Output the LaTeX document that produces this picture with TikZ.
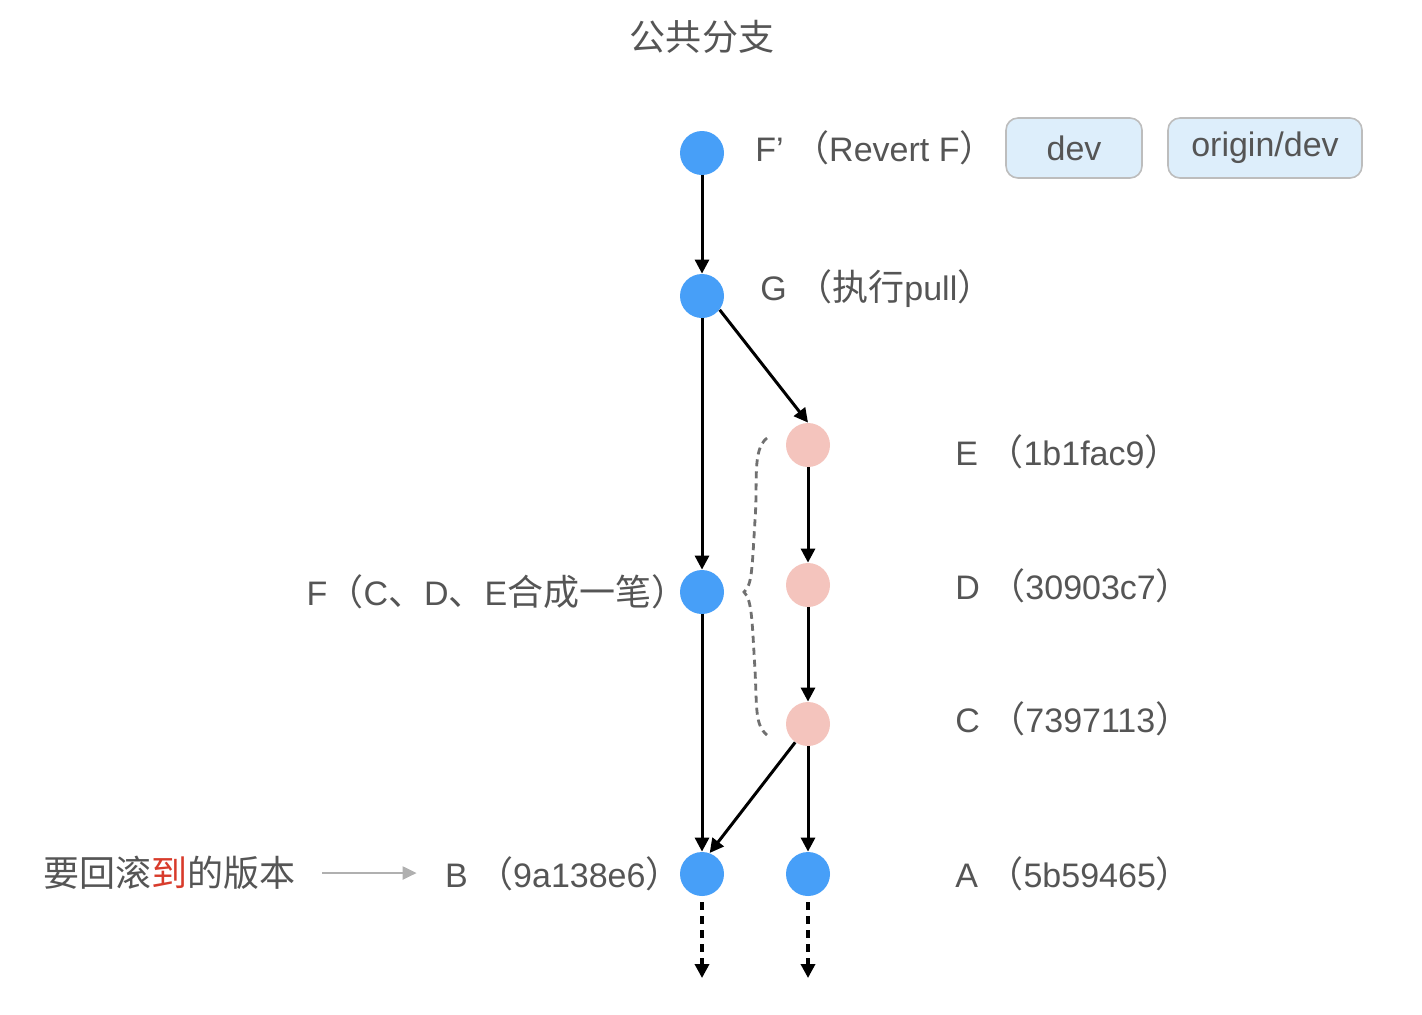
\documentclass[tikz,border=0pt]{standalone}
\usepackage{fontspec}
\setmainfont{Liberation Sans}
\newfontfamily\cjk[Scale=1.06]{Noto Sans CJK SC}
\usetikzlibrary{arrows.meta}
\definecolor{cblue}{HTML}{479FF8}
\definecolor{cpink}{HTML}{F4C4BD}
\definecolor{ctext}{HTML}{555555}
\definecolor{cred}{HTML}{D83B2B}
\definecolor{boxfill}{HTML}{DDEEFB}
\definecolor{boxline}{HTML}{BDBDBD}
\definecolor{brace}{HTML}{707070}
\definecolor{garrow}{HTML}{B0B0B0}
\begin{document}
\begin{tikzpicture}[x=0.5pt,y=-0.5pt,
  commit/.style={circle,fill=cblue,minimum size=22pt,inner sep=0pt},
  pcommit/.style={circle,fill=cpink,minimum size=22pt,inner sep=0pt},
  lbl/.style={text=ctext,font=\fontsize{17}{20}\selectfont,inner sep=0pt},
  branch/.style={draw=boxline,fill=boxfill,rounded corners=6pt,line width=0.8pt,
     minimum height=30pt,text=ctext,font=\fontsize{17}{20}\selectfont,inner sep=0pt},
  edge/.style={line width=1.5pt,-{Triangle[length=7pt,width=7pt]}},
  tail/.style={edge,dash pattern=on 4pt off 3pt,line width=1.7pt},
  bracestyle/.style={draw=brace,line width=1.4pt,dash pattern=on 3.5pt off 2.5pt},
  grayarr/.style={draw=garrow,line width=1.1pt,-{Triangle[length=7pt,width=6.5pt]}}
]
\useasboundingbox (0,0) rectangle (1422,1014);
% title
\node[lbl] (title) at (702,37) {\cjk 公共分支};
% commits
\node[commit] (fp) at (702,153) {};
\node[commit] (g) at (702,296) {};
\node[pcommit] (e) at (808,445) {};
\node[pcommit] (d) at (808,585) {};
\node[pcommit] (c) at (808,724) {};
\node[commit] (f) at (702,592) {};
\node[commit] (b) at (702,874) {};
\node[commit] (a) at (808,874) {};
\coordinate (bend) at (702,978);
\coordinate (aend) at (808,978);
% labels
\node[lbl,anchor=west] (fplab) at (755,148) {F’ {\cjk （}Revert F{\cjk ）}};
\node[branch,minimum width=68pt] (dev) at (1074,148) {dev};
\node[branch,minimum width=97pt] (odev) at (1265,148) {origin/dev};
\node[lbl,anchor=west] (glab) at (760,289) {G {\cjk （执行}pull{\cjk ）}};
\node[lbl,anchor=west] (elab) at (955,452) {E {\cjk （}1b1fac9{\cjk ）}};
\node[lbl,anchor=west] (dlab) at (955,586) {D {\cjk （}30903c7{\cjk ）}};
\node[lbl,anchor=west] (clab) at (955,719) {C {\cjk （}7397113{\cjk ）}};
\node[lbl,anchor=west] (alab) at (955,874) {A {\cjk （}5b59465{\cjk ）}};
\node[lbl,anchor=east] (flab) at (688,592) {F{\cjk （}C{\cjk 、}D{\cjk 、}E{\cjk 合成一笔）}};
\node[lbl,anchor=east] (blab) at (682,874) {B {\cjk （}9a138e6{\cjk ）}};
\node[lbl,anchor=west] (roll) at (43,873) {\cjk 要回滚{\color{cred}到}的版本};
% connectors
\draw[edge] (fp) -- (g);
\draw[edge] (g.-38) -- (e.north);
\draw[edge] (g) -- (f);
\draw[edge] (e) -- (d);
\draw[edge] (d) -- (c);
\draw[edge] (c.-125) -- (b.70);
\draw[edge] (c) -- (a);
\draw[edge] (f) -- (b);
\draw[tail,shorten <=3pt] (b) -- (bend);
\draw[tail,shorten <=3pt] (a) -- (aend);
\draw[grayarr,shorten <=13pt,shorten >=14pt] (roll.east) -- (roll.east -| blab.west);
% brace
\draw[bracestyle] (767,438) .. controls (752,450) and (758,480) .. (755,520)
   .. controls (752,570) and (752,585) .. (744,592)
   .. controls (752,600) and (752,620) .. (755,670)
   .. controls (757,710) and (755,725) .. (767,735);
\end{tikzpicture}
\end{document}
